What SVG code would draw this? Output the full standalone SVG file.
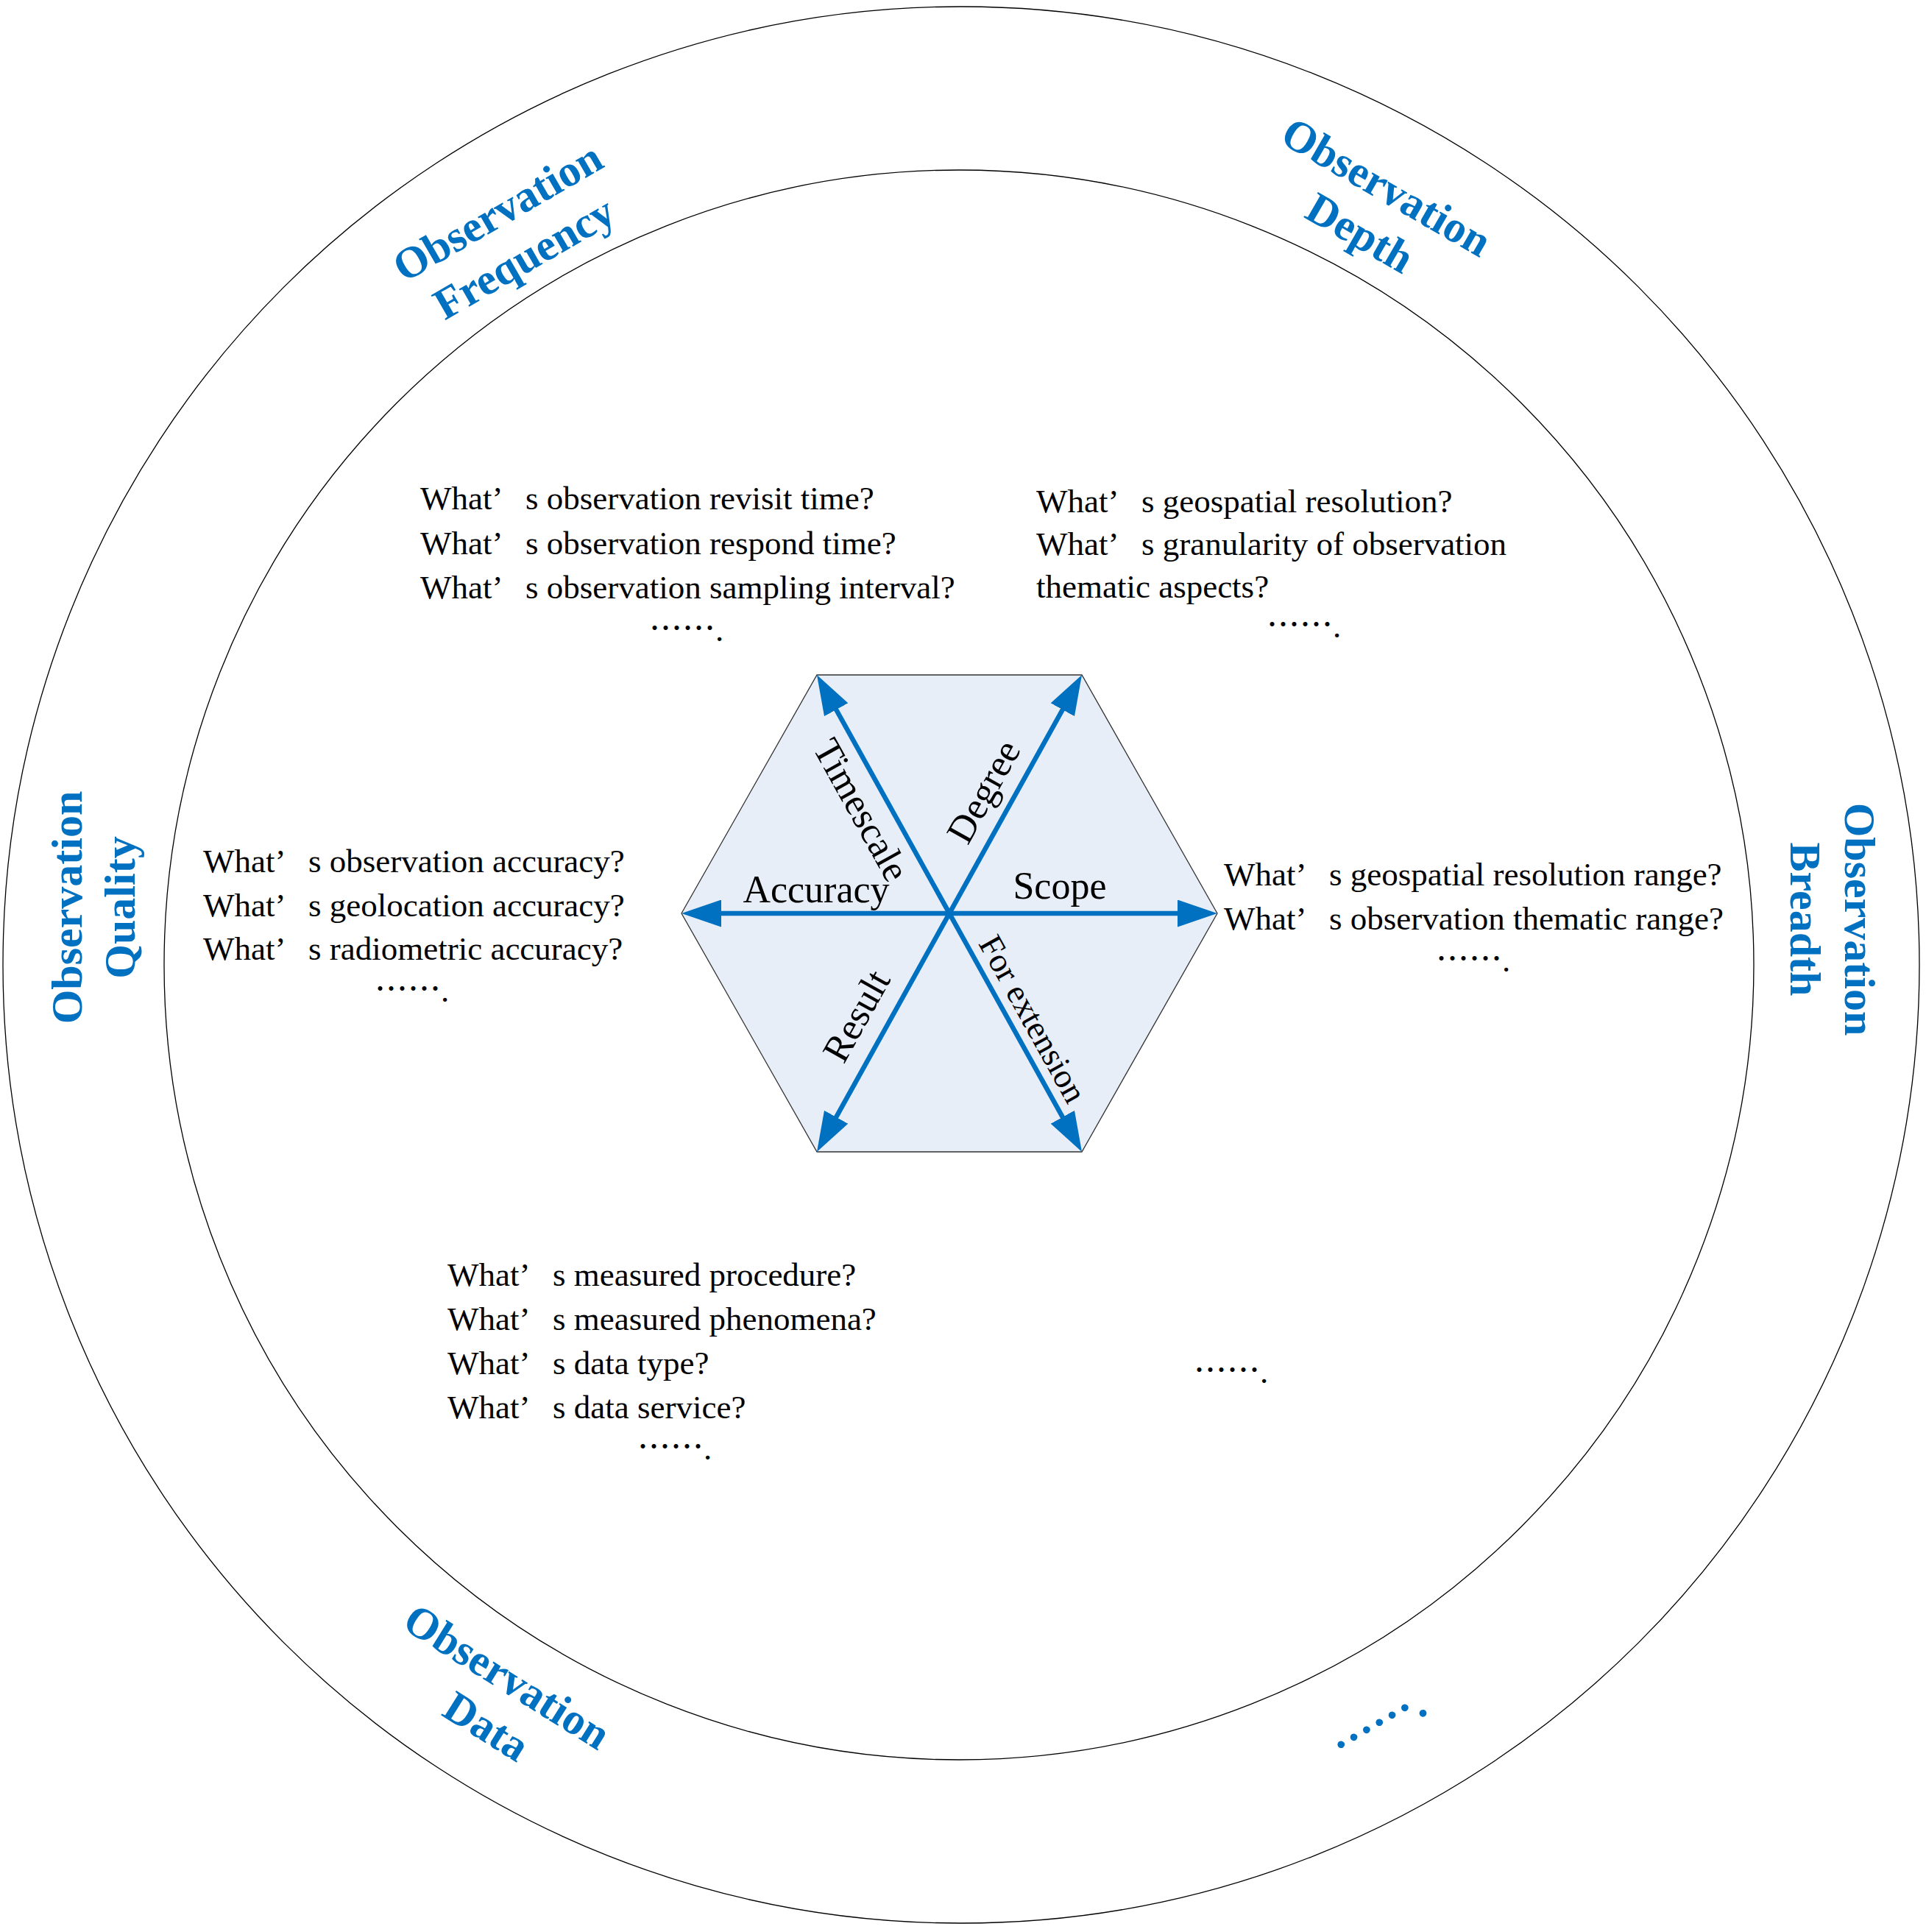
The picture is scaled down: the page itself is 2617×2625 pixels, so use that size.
<svg xmlns="http://www.w3.org/2000/svg" width="2617" height="2625" viewBox="0 0 2617 2625">
<style>
.ring{fill:none;stroke:#000;stroke-width:1.3}
.hex{fill:#E7EEF8;stroke:#333;stroke-width:1.3}
.q{font-family:"Liberation Serif","Times New Roman",serif;font-size:45px;fill:#000}
.cjk{font-family:"Noto Sans CJK SC","Noto Sans CJK JP",sans-serif}
.axis{font-family:"Liberation Serif","Times New Roman",serif;font-size:52px;fill:#000;text-anchor:middle}
.dim{font-family:"Liberation Serif","Times New Roman",serif;font-size:60px;font-weight:bold;fill:#0070C0;text-anchor:middle}
.arrow{stroke:#0070C0;stroke-width:6.5;fill:none;marker-start:url(#ah);marker-end:url(#ah)}
</style>
<defs>
<marker id="ah" markerUnits="userSpaceOnUse" markerWidth="54" markerHeight="37" viewBox="0 0 54 37" refX="14" refY="18.5" orient="auto-start-reverse">
<path d="M0,0 L54,18.5 L0,37 Z" fill="#0070C0"/>
</marker>
</defs>
<rect width="2617" height="2625" fill="#fff"/>
<g id="outer-ring"><circle class="ring" cx="1306" cy="1311" r="1302"/></g>
<g id="inner-ring"><circle class="ring" cx="1303" cy="1311" r="1080"/></g>
<g id="hexagon"><polygon class="hex" points="1110,917 1470,917 1654,1241 1470,1565 1110,1565 926,1241"/></g>
<g id="connectors">
<line class="arrow" x1="966" y1="1241" x2="1614" y2="1241"/>
<line class="arrow" x1="1129.4" y1="952" x2="1450.6" y2="1530"/>
<line class="arrow" x1="1450.6" y1="952" x2="1129.4" y2="1530"/>
</g>
<g id="axis-labels">
<text class="axis" x="1109" y="1226">Accuracy</text>
<text class="axis" x="1440" y="1221">Scope</text>
<text class="axis" transform="translate(1171,1100) rotate(60.9)" y="18">Timescale</text>
<text class="axis" transform="translate(1341,1078) rotate(-60.9)" y="12">Degree</text>
<text class="axis" transform="translate(1163,1380) rotate(-60.9)" y="18">Result</text>
<text class="axis" style="font-size:46px" transform="translate(1404,1384) rotate(60.9)" y="16">For extension</text>
</g>
<g id="dim-frequency" transform="translate(676,288) rotate(-30)">
<text class="dim" y="20">Observation</text>
<text class="dim" y="92">Frequency</text>
</g>
<g id="dim-depth" transform="translate(1884,254) rotate(30)">
<text class="dim" y="20">Observation</text>
<text class="dim" y="92">Depth</text>
</g>
<g id="dim-quality" transform="translate(147,1233) rotate(-90)">
<text class="dim" y="-36">Observation</text>
<text class="dim" y="36">Quality</text>
</g>
<g id="dim-breadth" transform="translate(2470,1249) rotate(90)">
<text class="dim" y="-37">Observation</text>
<text class="dim" y="37">Breadth</text>
</g>
<g id="dim-data" transform="translate(689,2278) rotate(32)">
<text class="dim" y="20">Observation</text>
<text class="dim" x="12" y="92">Data</text>
</g>
<g id="dim-more" transform="translate(1866,2346) rotate(-30)">
<text class="dim" style="text-anchor:start" x="-60" y="22"><tspan class="cjk">……</tspan>.</text>
</g>
<g id="q-frequency">
<text class="q" x="571" y="692">What’<tspan x="714">s observation revisit time?</tspan></text>
<text class="q" x="571" y="753">What’<tspan x="714">s observation respond time?</tspan></text>
<text class="q" x="571" y="813">What’<tspan x="714">s observation sampling interval?</tspan></text>
<text class="q" x="882" y="871"><tspan class="cjk">……</tspan>.</text>
</g>
<g id="q-depth">
<text class="q" x="1408" y="696">What’<tspan x="1551">s geospatial resolution?</tspan></text>
<text class="q" x="1408" y="754">What’<tspan x="1551">s granularity of observation</tspan></text>
<text class="q" x="1408" y="812">thematic aspects?</text>
<text class="q" x="1721" y="866"><tspan class="cjk">……</tspan>.</text>
</g>
<g id="q-quality">
<text class="q" x="276" y="1185">What’<tspan x="419">s observation accuracy?</tspan></text>
<text class="q" x="276" y="1245">What’<tspan x="419">s geolocation accuracy?</tspan></text>
<text class="q" x="276" y="1304">What’<tspan x="419">s radiometric accuracy?</tspan></text>
<text class="q" x="509" y="1361"><tspan class="cjk">……</tspan>.</text>
</g>
<g id="q-breadth">
<text class="q" x="1663" y="1203">What’<tspan x="1806">s geospatial resolution range?</tspan></text>
<text class="q" x="1663" y="1263">What’<tspan x="1806">s observation thematic range?</tspan></text>
<text class="q" x="1951" y="1320"><tspan class="cjk">……</tspan>.</text>
</g>
<g id="q-data">
<text class="q" x="608" y="1747">What’<tspan x="751">s measured procedure?</tspan></text>
<text class="q" x="608" y="1807">What’<tspan x="751">s measured phenomena?</tspan></text>
<text class="q" x="608" y="1867">What’<tspan x="751">s data type?</tspan></text>
<text class="q" x="608" y="1927">What’<tspan x="751">s data service?</tspan></text>
<text class="q" x="866" y="1983"><tspan class="cjk">……</tspan>.</text>
</g>
<g id="q-more">
<text class="q" x="1622" y="1879"><tspan class="cjk">……</tspan>.</text>
</g>
</svg>
